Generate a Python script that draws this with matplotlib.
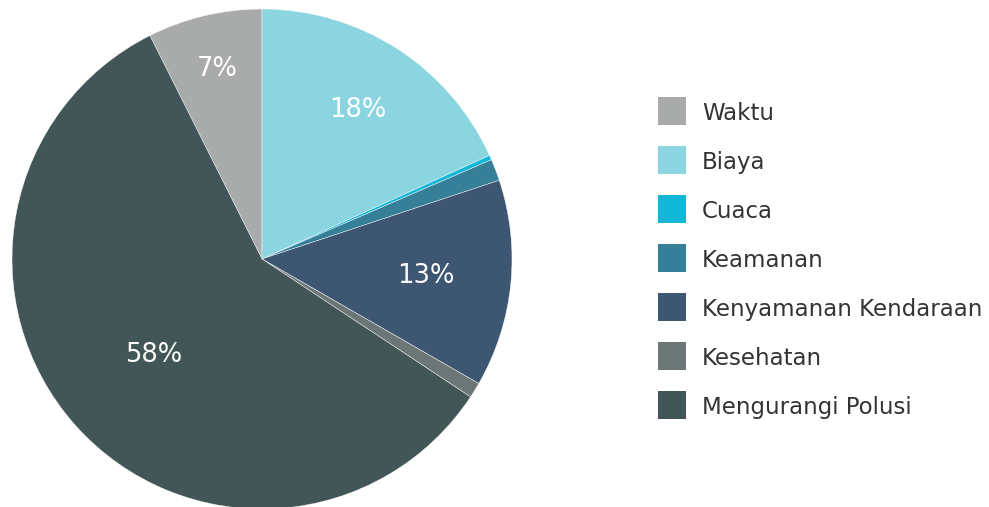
import matplotlib
matplotlib.use("Agg")
import matplotlib.pyplot as plt
from matplotlib.patches import Rectangle
import numpy as np

categories = ["Waktu", "Biaya", "Cuaca", "Keamanan", "Kenyamanan Kendaraan", "Kesehatan", "Mengurangi Polusi"]
values = [7.4, 18.2, 0.3, 1.4, 13.4, 1.0, 58.3]
pct_labels = ["7%", "18%", "", "", "13%", "", "58%"]

colors = ["#A9ABAB", "#8BD5E0", "#12B7D8", "#357F99", "#3D5672", "#6B7776", "#425657"]
label_dist = [0.78, 0.71, 0.7, 0.7, 0.66, 0.7, 0.58]

plt.rcParams['font.family'] = ['DejaVu Sans']

W, H = 989, 507
fig = plt.figure(figsize=(W / 100, H / 100), dpi=100)
ax = fig.add_axes([0, 0, 1, 1])

cx, cy, R = 262, H - 259, 250
total = sum(values)
start = 90 + 360 * values[0] / total
wedges, _ = ax.pie(values, colors=colors, startangle=start, counterclock=False,
                   center=(cx, cy), radius=R, frame=True,
                   wedgeprops=dict(edgecolor="white", linewidth=0.3))
ax.set_xlim(0, W)
ax.set_ylim(0, H)
ax.set_aspect('equal')
ax.axis('off')

for w, lab, d in zip(wedges, pct_labels, label_dist):
    if not lab:
        continue
    ang = np.deg2rad((w.theta1 + w.theta2) / 2)
    x = cx + R * d * np.cos(ang)
    y = cy + R * d * np.sin(ang)
    ax.text(x, y, lab, color="white", fontsize=18.5, ha="center", va="center")

# legend
lx, ly0, step, sq = 658, 111, 49, 28
for i, (name, c) in enumerate(zip(categories, colors)):
    yc = H - (ly0 + i * step)
    ax.add_patch(Rectangle((lx, yc - sq / 2), sq, sq, facecolor=c, edgecolor="none"))
    ax.text(lx + 44, yc, name, color="#333333", fontsize=16.5, ha="left", va="center_baseline")

fig.savefig("out.png", dpi=100)
